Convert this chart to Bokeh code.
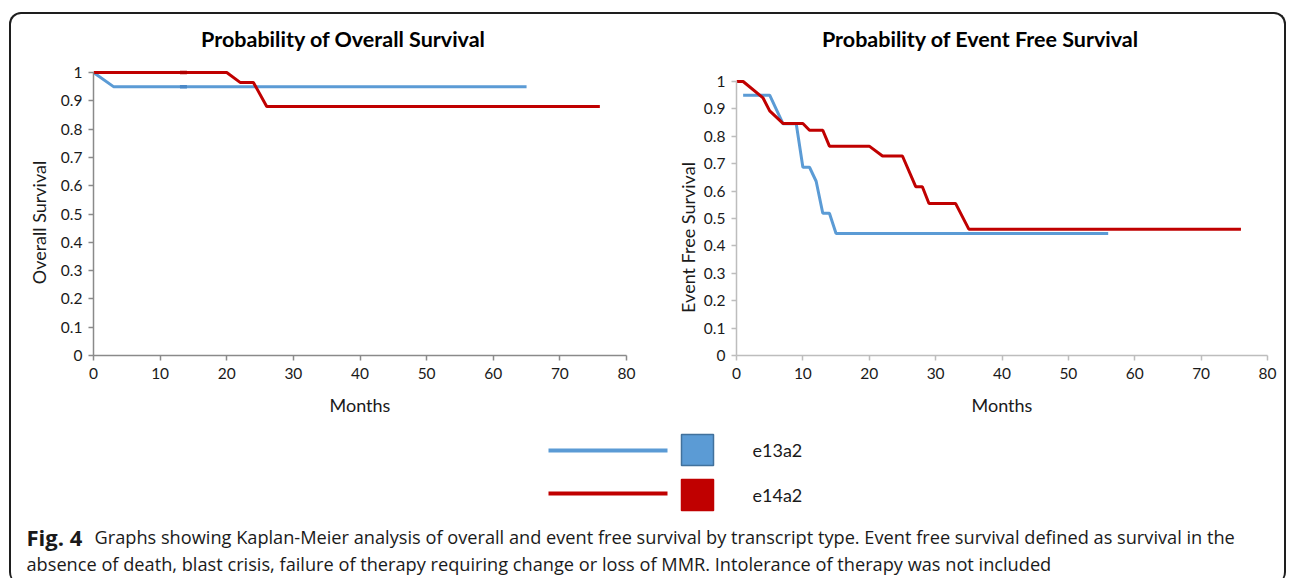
import math
from bokeh.plotting import figure
from bokeh.layouts import column, row
from bokeh.models import Range1d, FixedTicker, Label
from bokeh.core.properties import value
from bokeh.embed import file_html
from bokeh.resources import INLINE

# ---------------- data ----------------
series = ["e13a2", "e14a2"]
colors = ["#5b9bd5", "#c00000"]

# Overall survival
os_e13a2_months = [0, 3, 65]
os_e13a2_surv = [1.0, 0.95, 0.95]
os_e14a2_months = [0, 20, 22, 24, 26, 76]
os_e14a2_surv = [1.0, 1.0, 0.965, 0.965, 0.88, 0.88]
os_censor_months = [13.5, 13.5]
os_censor_surv = [0.95, 1.0]

# Event free survival
efs_e13a2_months = [1, 5, 7, 9, 10, 11, 12, 13, 14, 15, 56]
efs_e13a2_surv = [0.95, 0.95, 0.846, 0.846, 0.687, 0.687, 0.636, 0.519, 0.519, 0.445, 0.445]
efs_e14a2_months = [0, 1, 4, 5, 7, 10, 11, 13, 14, 20, 22, 25, 27, 28, 29, 33, 35, 76]
efs_e14a2_surv = [1.0, 1.0, 0.94, 0.893, 0.847, 0.847, 0.822, 0.822, 0.764, 0.764,
                  0.728, 0.728, 0.616, 0.616, 0.555, 0.555, 0.461, 0.461]

x_ticks = [0, 10, 20, 30, 40, 50, 60, 70, 80]
y_ticks = [0, 0.1, 0.2, 0.3, 0.4, 0.5, 0.6, 0.7, 0.8, 0.9, 1]
y_tick_labels = ["0", "0.1", "0.2", "0.3", "0.4", "0.5", "0.6", "0.7", "0.8", "0.9", "1"]

titles = ["Probability of Overall Survival", "Probability of Event Free Survival"]
y_labels = ["Overall Survival", "Event Free Survival"]
x_label = "Months"
caption_bold = "Fig. 4"
caption_line1 = ("Graphs showing Kaplan-Meier analysis of overall and event free survival by "
                 "transcript type. Event free survival defined as survival in the")
caption_line2 = ("absence of death, blast crisis, failure of therapy requiring change or loss "
                 "of MMR. Intolerance of therapy was not included")

FONT = "Lato"
CAP_FONT = "Open Sans"

# layout constants (page pixels); bordered box content starts at (11, 14)
FRAME_TOP = 20
FRAME_BOTTOM = 355
MB_TOP = FRAME_TOP - 14
MB_BOTTOM = 420 - FRAME_BOTTOM


def blank(fig):
    fig.axis.visible = False
    fig.xgrid.visible = False
    fig.ygrid.visible = False
    fig.outline_line_color = None
    fig.background_fill_color = None
    fig.border_fill_color = None
    return fig


def ylabel_fig(left_px, right_px, text, center_x, center_y):
    f = figure(width=right_px - left_px, height=406, x_range=Range1d(left_px, right_px),
               y_range=Range1d(FRAME_BOTTOM, FRAME_TOP), output_backend="svg",
               toolbar_location=None, min_border=0, min_border_left=0, min_border_right=0,
               min_border_top=MB_TOP, min_border_bottom=MB_BOTTOM)
    blank(f)
    f.text(x=[center_x], y=[center_y], text=[text], angle=math.pi / 2,
           text_font=value(FONT), text_font_size="18px", text_align="center",
           text_baseline="middle", text_color="#1a1a1a")
    return f


def make_chart(left_px, right_px, x0_px, x1_px, y1_px, title, title_px, axis_color):
    unit = FRAME_BOTTOM - y1_px
    y_end = 1 + (y1_px - FRAME_TOP) / unit
    p = figure(width=right_px - left_px, height=406, x_range=Range1d(0, 80),
               y_range=Range1d(0, y_end),
               output_backend="svg", toolbar_location=None,
               min_border_left=x0_px - left_px, min_border_right=right_px - x1_px,
               min_border_top=MB_TOP, min_border_bottom=MB_BOTTOM)
    p.xgrid.visible = False
    p.ygrid.visible = False
    p.outline_line_color = None
    p.background_fill_color = None
    p.border_fill_color = None
    p.xaxis.ticker = FixedTicker(ticks=x_ticks)
    p.yaxis.ticker = FixedTicker(ticks=y_ticks)
    p.yaxis.major_label_overrides = dict(zip(y_ticks, y_tick_labels))
    p.yaxis.bounds = (0, 1)
    for ax in (p.xaxis[0], p.yaxis[0]):
        ax.axis_line_color = axis_color
        ax.axis_line_width = 1.5
        ax.major_tick_line_color = axis_color
        ax.major_tick_line_width = 1.5
        ax.major_tick_out = 5
        ax.major_tick_in = 0
        ax.minor_tick_line_color = None
        ax.major_label_text_font = FONT
        ax.major_label_text_font_size = "15.5px"
        ax.major_label_text_color = "#1a1a1a"
        ax.axis_label_text_font = FONT
        ax.axis_label_text_font_size = "18px"
        ax.axis_label_text_font_style = "normal"
        ax.axis_label_text_color = "#1a1a1a"
    p.xaxis.axis_label = x_label
    p.xaxis.axis_label_standoff = 12
    p.xaxis.major_label_standoff = 7
    p.yaxis.major_label_standoff = 6
    tx = (title_px[0] - x0_px) * 80 / (x1_px - x0_px)
    ty = (FRAME_BOTTOM - title_px[1]) / unit
    p.add_layout(Label(x=tx, y=ty, text=title, text_align="center",
                       text_baseline="middle", text_font=FONT, text_font_style="bold",
                       text_font_size="21.5px", text_color="#000000"))
    return p


yl1 = ylabel_fig(11, 52, y_labels[0], 38, 222)
p1 = make_chart(52, 647, 93, 626, 72, titles[0], (343, 38), "#8a8a8a")
p1.line(os_e13a2_months, os_e13a2_surv, line_color=colors[0], line_width=3)
p1.line(os_e14a2_months, os_e14a2_surv, line_color=colors[1], line_width=3)
p1.scatter(os_censor_months, os_censor_surv, marker="dash", size=7,
           line_color=["#4a88c7", "#b00000"], line_width=3.5)

yl2 = ylabel_fig(647, 700, y_labels[1], 687, 237)
p2 = make_chart(700, 1284, 736, 1267, 81, titles[1], (980, 38), "#bdbdbd")
p2.line(efs_e13a2_months, efs_e13a2_surv, line_color=colors[0], line_width=3)
p2.line(efs_e14a2_months, efs_e14a2_surv, line_color=colors[1], line_width=3)

# ---------------- legend + caption panel (page-pixel coordinates) ----------------
p3 = figure(width=1273, height=164, x_range=Range1d(11, 1284), y_range=Range1d(584, 420),
            output_backend="svg", toolbar_location=None,
            min_border=0, min_border_left=0, min_border_right=0,
            min_border_top=0, min_border_bottom=0)
blank(p3)

leg_y = [450, 493]
p3.segment(x0=[548] * 2, y0=leg_y, x1=[667] * 2, y1=leg_y, line_color=colors, line_width=4)
p3.rect(x=[697] * 2, y=[449.5, 494.5], width=32, height=31, fill_color=colors,
        line_color=["#41719c", "#c00000"], line_width=1.5)
p3.text(x=[752] * 2, y=[449, 494], text=series, text_font=value(FONT), text_font_size="18px",
        text_baseline="middle", text_align="left", text_color="#1a1a1a")

p3.text(x=[26], y=[536], text=[caption_bold], text_font=value(CAP_FONT), text_font_size="22px",
        text_font_style="bold", text_baseline="middle", text_color="#1a1a1a")
p3.text(x=[94, 26], y=[536, 563], text=[caption_line1, caption_line2], text_font=value(CAP_FONT),
        text_font_size="18.2px", text_baseline="middle", text_color="#1a1a1a")

layout = column(row(yl1, p1, yl2, p2), p3, margin=(12, 0, 0, 9),
                styles={"border": "2px solid #1e1e1e", "border-radius": "12px",
                        "border-bottom": "none"})

open("out.html", "w").write(file_html(layout, INLINE))
